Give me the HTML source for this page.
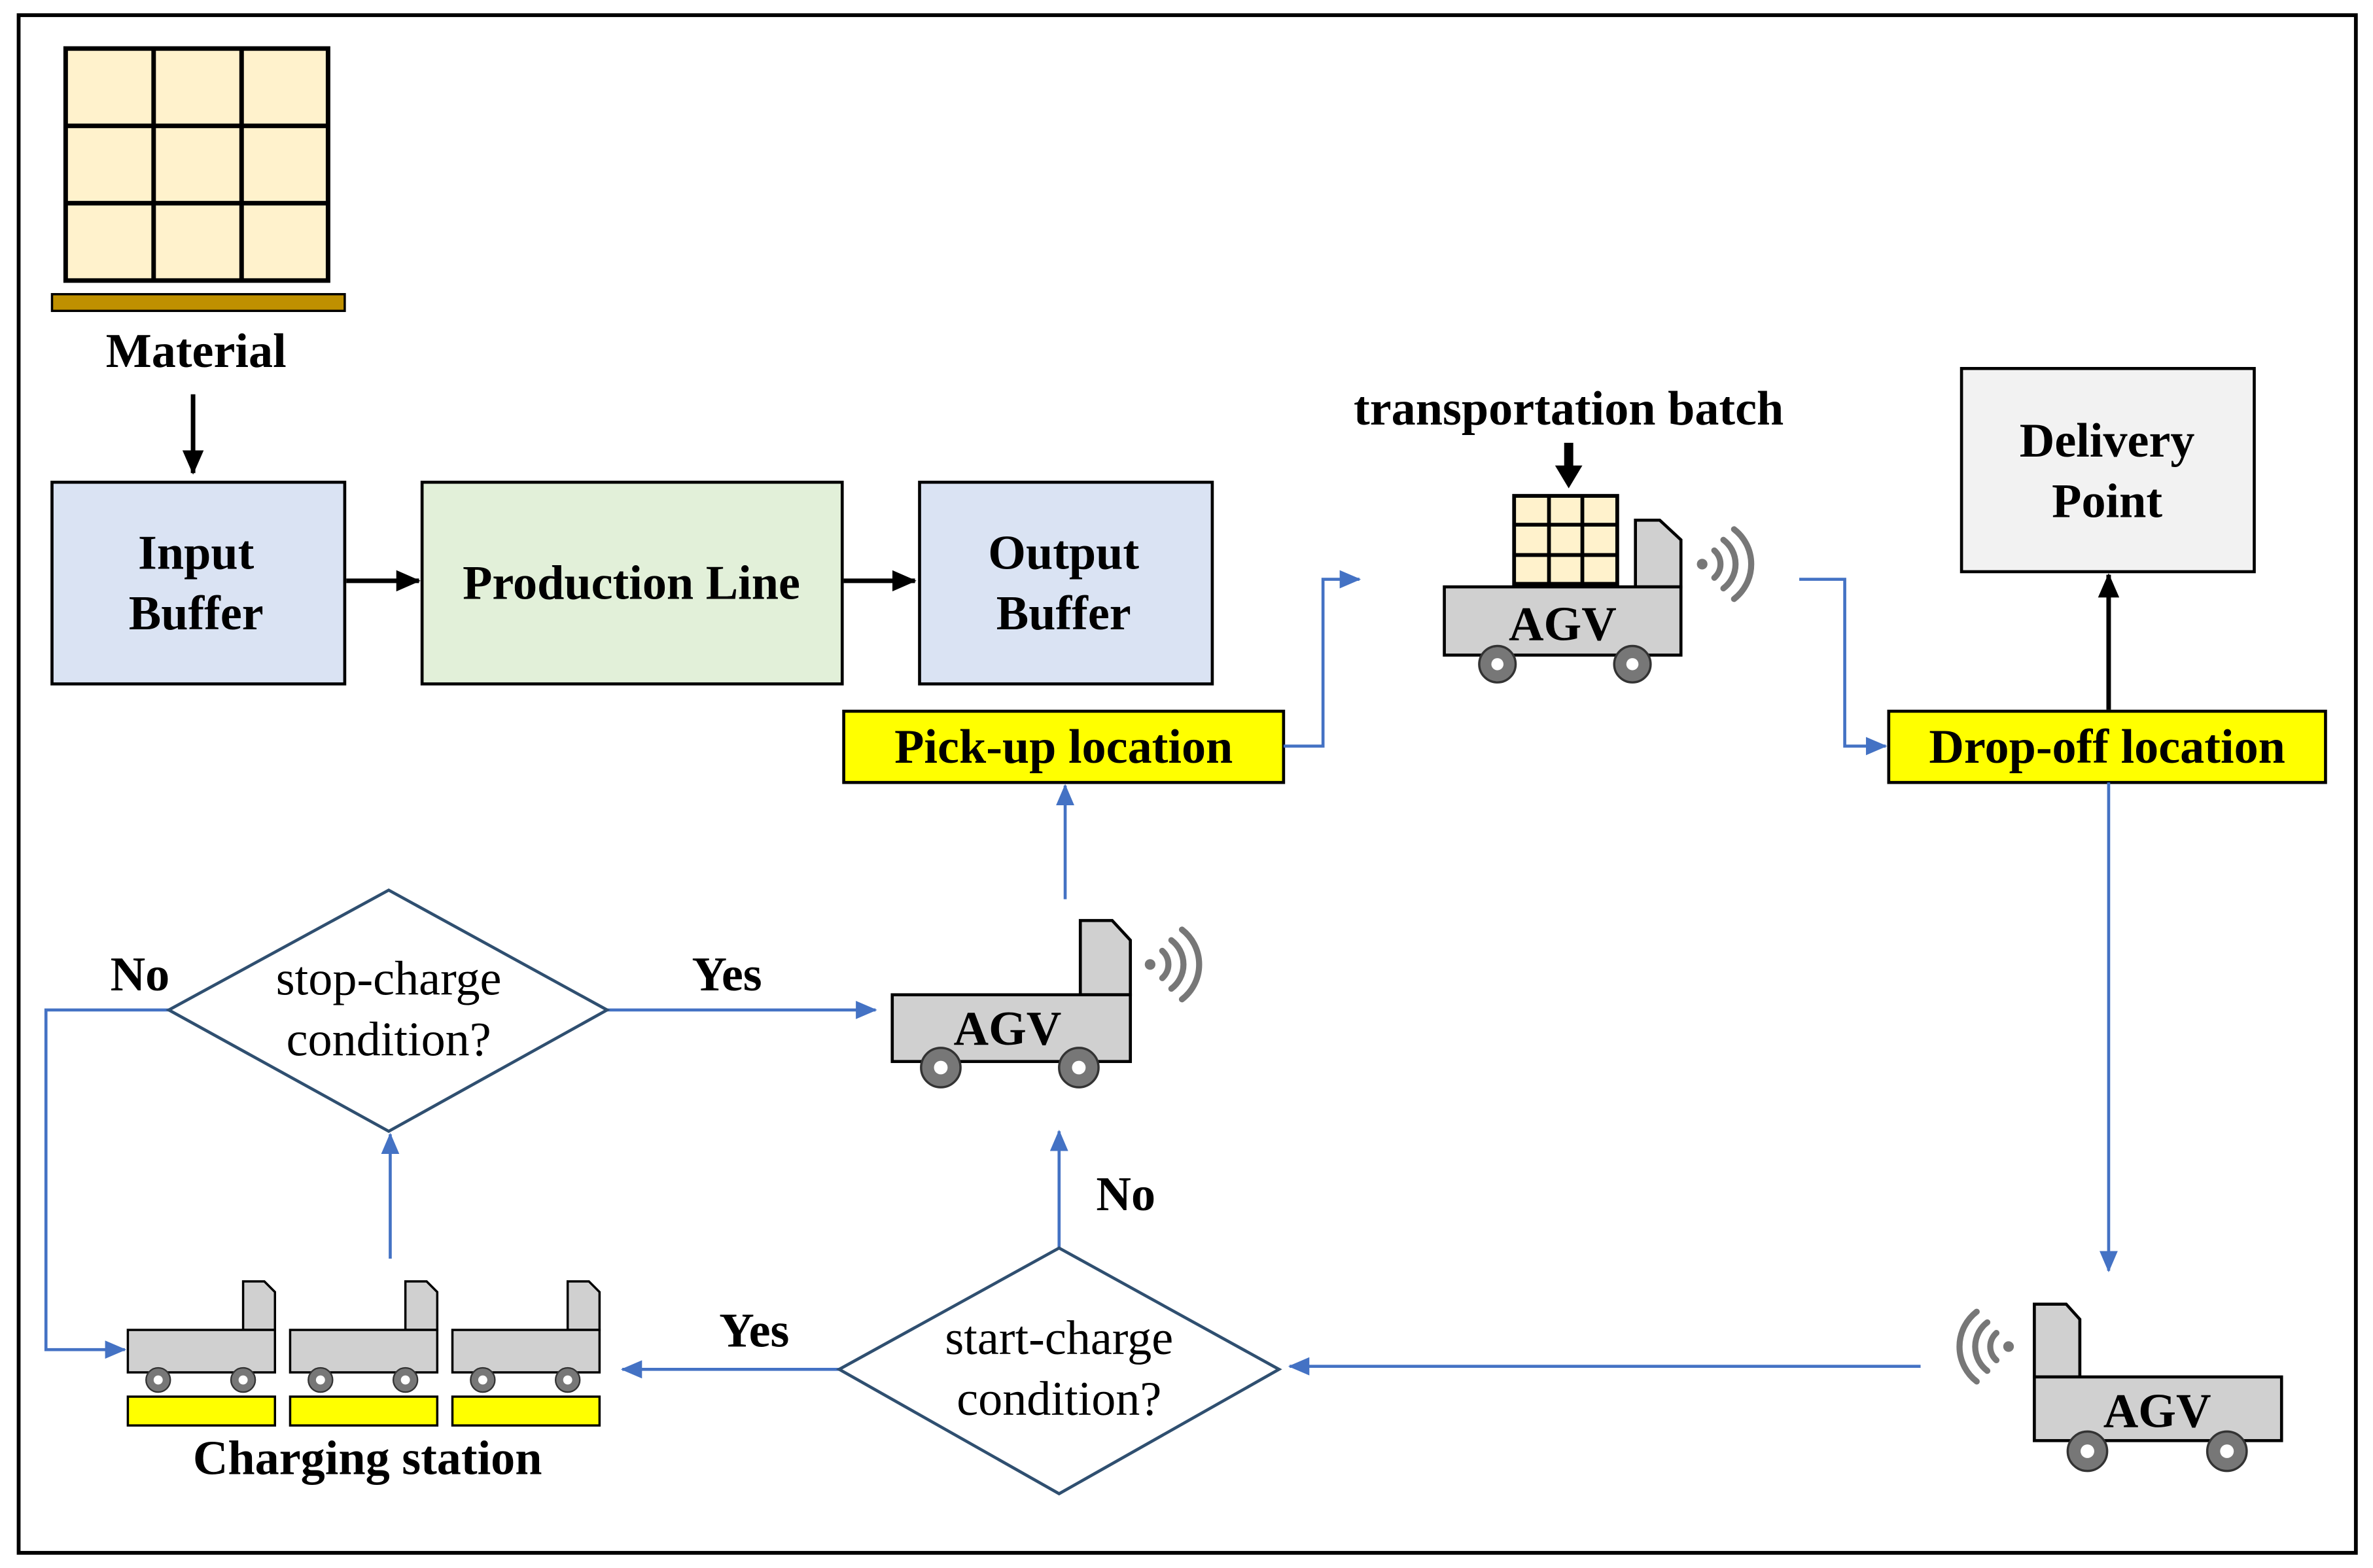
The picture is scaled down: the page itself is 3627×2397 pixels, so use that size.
<!DOCTYPE html>
<html><head><meta charset="utf-8"><style>
html,body{margin:0;padding:0;background:#fff;width:3627px;height:2397px;overflow:hidden}
svg{display:block}
text{font-family:"Liberation Serif",serif}
.b{font-weight:bold;font-size:32px;text-anchor:middle}
.n{font-size:32px;text-anchor:middle}
</style></head><body>
<svg width="3627" height="2397" viewBox="0 0 1564 1034" xmlns="http://www.w3.org/2000/svg">
<defs>
<marker id="ab" markerWidth="14" markerHeight="12" refX="13" refY="6" orient="auto" markerUnits="userSpaceOnUse"><path d="M0,0 L14,6 L0,12 z" fill="#4472c4"/></marker>
<marker id="akb" markerWidth="16" markerHeight="14" refX="15" refY="7" orient="auto" markerUnits="userSpaceOnUse"><path d="M0,0 L16,7 L0,14 z" fill="#000"/></marker>
<g id="sig" fill="none" stroke="#777" stroke-width="4" stroke-linecap="round">
<circle cx="0" cy="0" r="3.5" fill="#777" stroke="none"/>
<path d="M8,-9 A12,12 0 0 1 8,9"/><path d="M14,-16 A20,20 0 0 1 14,16"/><path d="M21,-23 A29,29 0 0 1 21,23"/>
</g>
</defs>
<rect x="12" y="10" width="1541" height="1014" fill="#fff" stroke="#000" stroke-width="2.5"/>

<rect x="43" y="32" width="173" height="153" fill="#fff2cc" stroke="#000" stroke-width="3"/>
<path d="M101,32V185M159,32V185M43,83H216M43,134H216" stroke="#000" stroke-width="3"/>
<rect x="34" y="194" width="193" height="11" fill="#bf9000" stroke="#000" stroke-width="1.5"/>
<text class="b" x="129" y="242">Material</text>
<line x1="127" y1="260" x2="127" y2="312" stroke="#000" stroke-width="3" marker-end="url(#akb)"/>

<rect x="34" y="318" width="193" height="133" fill="#dae3f3" stroke="#000" stroke-width="2"/>
<text class="b" x="129" y="375">Input</text><text class="b" x="129" y="415">Buffer</text>
<rect x="278" y="318" width="277" height="133" fill="#e2f0d9" stroke="#000" stroke-width="2"/>
<text class="b" x="416" y="395">Production Line</text>
<rect x="606" y="318" width="193" height="133" fill="#dae3f3" stroke="#000" stroke-width="2"/>
<text class="b" x="701" y="375">Output</text><text class="b" x="701" y="415">Buffer</text>
<line x1="228" y1="383" x2="276" y2="383" stroke="#000" stroke-width="3" marker-end="url(#akb)"/>
<line x1="556" y1="383" x2="603" y2="383" stroke="#000" stroke-width="3" marker-end="url(#akb)"/>

<rect x="556" y="469" width="290" height="47" fill="#ffff00" stroke="#000" stroke-width="2"/>
<text class="b" x="701" y="503">Pick-up location</text>
<rect x="1245" y="469" width="288" height="47" fill="#ffff00" stroke="#000" stroke-width="2"/>
<text class="b" x="1389" y="503">Drop-off location</text>
<rect x="1293" y="243" width="193" height="134" fill="#f2f2f2" stroke="#000" stroke-width="2"/>
<text class="b" x="1389" y="301">Delivery</text><text class="b" x="1389" y="341">Point</text>
<line x1="1390" y1="468" x2="1390" y2="379" stroke="#000" stroke-width="3" marker-end="url(#akb)"/>

<g fill="none" stroke="#4472c4" stroke-width="2">
<polyline points="846,492 872,492 872,382 896,382" marker-end="url(#ab)"/>
<polyline points="1186,382 1216,382 1216,492 1243,492" marker-end="url(#ab)"/>
<line x1="1390" y1="516" x2="1390" y2="838" marker-end="url(#ab)"/>
<line x1="1266" y1="901" x2="850" y2="901" marker-end="url(#ab)"/>
<line x1="698" y1="823" x2="698" y2="746" marker-end="url(#ab)"/>
<line x1="553" y1="903" x2="410" y2="903" marker-end="url(#ab)"/>
<line x1="257" y1="830" x2="257" y2="748" marker-end="url(#ab)"/>
<polyline points="111,666 30,666 30,890 82,890" marker-end="url(#ab)"/>
<line x1="400" y1="666" x2="577" y2="666" marker-end="url(#ab)"/>
<line x1="702" y1="593" x2="702" y2="518" marker-end="url(#ab)"/>
</g>

<polygon points="698,823 843,903 698,985 553,903" fill="#fff" stroke="#2f4f70" stroke-width="2"/>
<text class="n" x="698" y="893">start-charge</text><text class="n" x="698" y="933">condition?</text>
<polygon points="256,587 400,666 256,746 111,666" fill="#fff" stroke="#2f4f70" stroke-width="2"/>
<text class="n" x="256" y="656">stop-charge</text><text class="n" x="256" y="696">condition?</text>
<text class="b" x="92" y="653">No</text>
<text class="b" x="479" y="653">Yes</text>
<text class="b" x="742" y="798">No</text>
<text class="b" x="497" y="888">Yes</text>

<text class="b" x="1034" y="280">transportation batch</text>
<rect x="1031" y="292" width="6" height="16" fill="#000"/>
<path d="M1025,307H1043L1034,322Z" fill="#000"/>
<rect x="998" y="327" width="68" height="58" fill="#fff2cc" stroke="#000" stroke-width="2.5"/>
<path d="M1021,327V385M1043,327V385M998,346H1066M998,366H1066" stroke="#000" stroke-width="2.5"/>
<path d="M1078,387V343H1094L1108,356V387Z" fill="#d0d0d0" stroke="#000" stroke-width="2"/>
<rect x="952" y="387" width="156" height="45" fill="#d0d0d0" stroke="#000" stroke-width="2"/>
<text class="b" x="1030" y="422">AGV</text>
<circle cx="987" cy="438" r="12" fill="#777" stroke="#333" stroke-width="1.5"/><circle cx="987" cy="438" r="4" fill="#fff"/>
<circle cx="1076" cy="438" r="12" fill="#777" stroke="#333" stroke-width="1.5"/><circle cx="1076" cy="438" r="4" fill="#fff"/>
<use href="#sig" x="1122" y="372"/>

<path d="M712,656V607H733L745,620V656Z" fill="#d0d0d0" stroke="#000" stroke-width="2"/>
<rect x="588" y="656" width="157" height="44" fill="#d0d0d0" stroke="#000" stroke-width="2"/>
<text class="b" x="664" y="689">AGV</text>
<circle cx="620" cy="704" r="13" fill="#777" stroke="#333" stroke-width="1.5"/><circle cx="620" cy="704" r="4.5" fill="#fff"/>
<circle cx="711" cy="704" r="13" fill="#777" stroke="#333" stroke-width="1.5"/><circle cx="711" cy="704" r="4.5" fill="#fff"/>
<use href="#sig" x="758" y="636"/>

<path d="M1341,908V860H1362L1371,870V908Z" fill="#d0d0d0" stroke="#000" stroke-width="2"/>
<rect x="1341" y="908" width="163" height="42" fill="#d0d0d0" stroke="#000" stroke-width="2"/>
<text class="b" x="1422" y="941">AGV</text>
<circle cx="1376" cy="957" r="13" fill="#777" stroke="#333" stroke-width="1.5"/><circle cx="1376" cy="957" r="4.5" fill="#fff"/>
<circle cx="1468" cy="957" r="13" fill="#777" stroke="#333" stroke-width="1.5"/><circle cx="1468" cy="957" r="4.5" fill="#fff"/>
<use href="#sig" transform="translate(1324,888) scale(-1,1)"/>

<g id="ch">
<path d="M160,877V845H174L181,852V877Z" fill="#d0d0d0" stroke="#000" stroke-width="1.5"/>
<rect x="84" y="877" width="97" height="28" fill="#d0d0d0" stroke="#000" stroke-width="1.5"/>
<circle cx="104" cy="910" r="8" fill="#777" stroke="#333"/><circle cx="104" cy="910" r="3" fill="#fff"/>
<circle cx="160" cy="910" r="8" fill="#777" stroke="#333"/><circle cx="160" cy="910" r="3" fill="#fff"/>
<rect x="84" y="921" width="97" height="19" fill="#ffff00" stroke="#000" stroke-width="1.5"/>
</g>
<use href="#ch" x="107"/>
<use href="#ch" x="214"/>
<text class="b" x="242" y="972">Charging station</text>
</svg>
</body></html>
